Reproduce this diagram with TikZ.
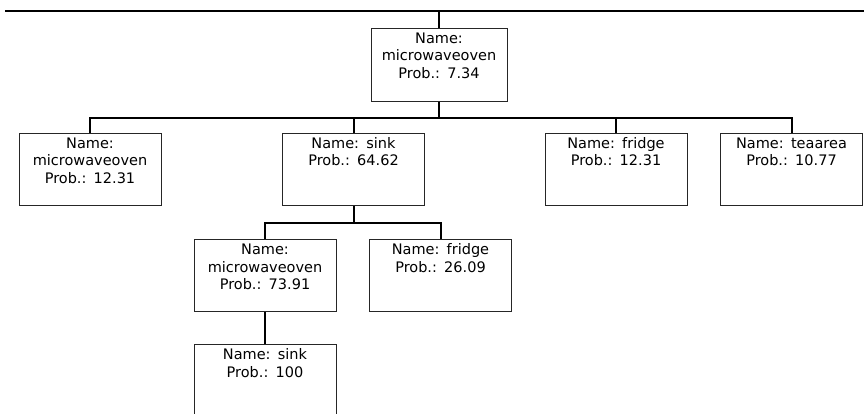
\documentclass[tikz,border=0pt]{standalone}
\usepackage{fontspec}
\setmainfont{DejaVu Sans}
\usetikzlibrary{positioning}
\tikzset{leaf/.style={draw=black!85,line width=1pt,align=center,text width=138pt,inner sep=2pt,text height=13pt,text depth=55pt,anchor=north,font=\fontsize{14.5}{17.5}\selectfont}, link/.style={line width=2pt,draw=black,line join=miter}}
\begin{document}
\begin{tikzpicture}[x=1pt,y=-1pt]
\useasboundingbox (0,0) rectangle (864,414);
\coordinate(tl)at(5,11);\coordinate(tr)at(864,11);
\node[leaf,text width=132pt,text depth=56pt](r)at(439,28){Name:\\microwaveoven\\Prob.: 7.34};
\node[leaf](m1)at(90,133){Name:\\microwaveoven\\Prob.: 12.31};\node[leaf](s1)at(353.5,133){Name: sink\\Prob.: 64.62};
\node[leaf](f1)at(616,133){Name: fridge\\Prob.: 12.31};\node[leaf](t1)at(791.5,133){Name: teaarea\\Prob.: 10.77};
\node[leaf](m2)at(265,239){Name:\\microwaveoven\\Prob.: 73.91};\node[leaf](f2)at(440.5,239){Name: fridge\\Prob.: 26.09};
\node[leaf](s3)at(265,344){Name: sink\\Prob.: 100};
\draw[link,line width=2.5pt](tl)--(tr);\draw[link](r.north)--(r.north|-tl);
\draw[link](r.south)--++(0,16)-|(m1.north);\draw[link](r.south)--++(0,16)-|(s1.north);
\draw[link](r.south)--++(0,16)-|(f1.north);\draw[link](r.south)--++(0,16)-|(t1.north);
\draw[link](s1.south)--++(0,17)-|(m2.north);\draw[link](s1.south)--++(0,17)-|(f2.north);
\draw[link](m2.south)--(s3.north);
\end{tikzpicture}
\end{document}
